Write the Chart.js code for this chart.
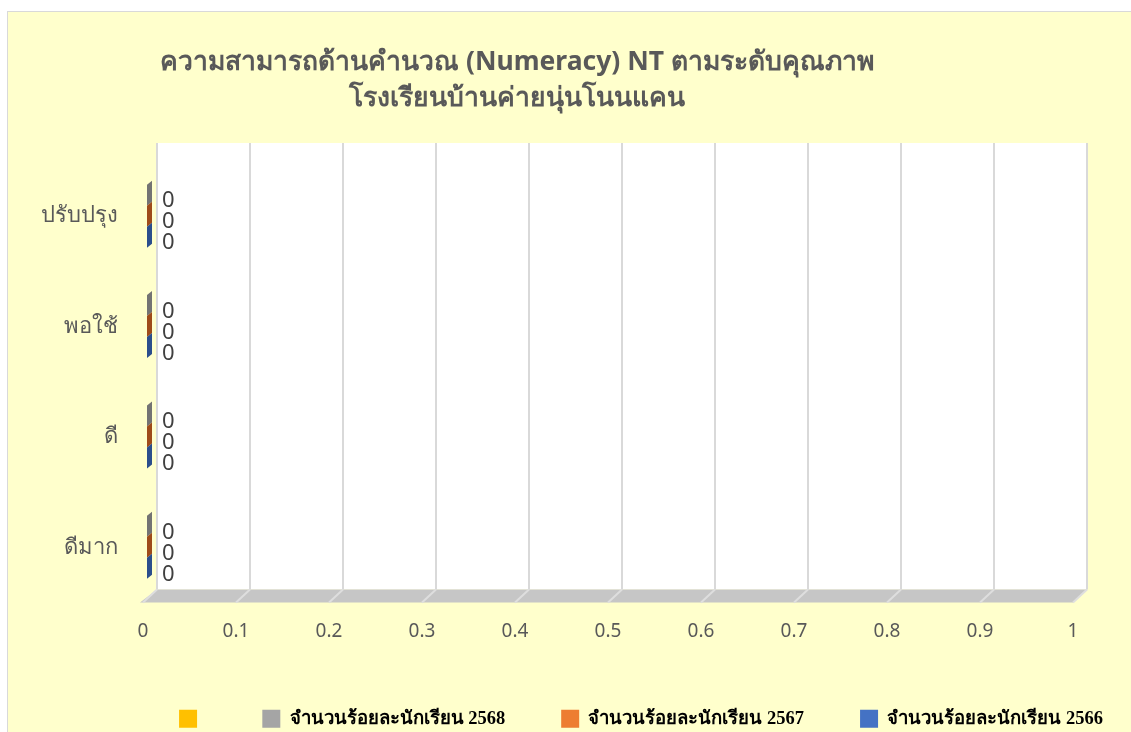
<!DOCTYPE html>
<html>
<head>
<meta charset="utf-8">
<script src="https://cdn.jsdelivr.net/npm/chart.js@4.4.1/dist/chart.umd.min.js"></script>
<style>
html, body { margin: 0; padding: 0; background: #fff; overflow: hidden; }
#box {
    position: absolute; left: 7px; top: 11px;
    width: 1130px; height: 730px;
    background: #FFFFCC;
    border-top: 1px solid #d9d9d9; border-left: 1px solid #d9d9d9;
    overflow: hidden;
}
canvas { display: block; }
</style>
</head>
<body>
<div id="box"><canvas id="ntChart" width="1266" height="726"></canvas></div>
<script>
// data (all zero)
const categories = ['ดีมาก', 'ดี', 'พอใช้', 'ปรับปรุง'];
const seriesNames = ['จำนวนร้อยละนักเรียน 2568', 'จำนวนร้อยละนักเรียน 2567', 'จำนวนร้อยละนักเรียน 2566'];
const values2568 = [0, 0, 0, 0];
const values2567 = [0, 0, 0, 0];
const values2566 = [0, 0, 0, 0];
const xTicks = [0, 0.1, 0.2, 0.3, 0.4, 0.5, 0.6, 0.7, 0.8, 0.9, 1];
const titleLines = ['ความสามารถด้านคำนวณ (Numeracy) NT ตามระดับคุณภาพ', 'โรงเรียนบ้านค่ายนุ่นโนนแคน'];

// colours
const frontColors = ['#A5A5A5', '#ED7D31', '#4472C4'];
const sideColors = ['#737373', '#9E4B1A', '#2B4E8C'];
const emptySeriesColor = '#FFC000';

const depthX = 14;
const depthY = 13;
const sansFont = '"Noto Sans", "Open Sans", sans-serif';

const chartTitle = {
    id: 'chartTitle',
    afterDraw(chart) {
        const ctx = chart.ctx;
        ctx.save();
        ctx.fillStyle = '#595959';
        ctx.font = 'bold 26.5px ' + sansFont;
        ctx.textAlign = 'center';
        ctx.textBaseline = 'middle';
        ctx.fillText(titleLines[0], 509, 50);
        ctx.fillText(titleLines[1], 509, 86);
        ctx.restore();
    }
};

// back wall, floor, and the thin 3d caps of the zero bars
const bar3d = {
    id: 'bar3d',
    beforeDatasetsDraw(chart) {
        const ctx = chart.ctx;
        const x = chart.scales.x;
        const area = chart.chartArea;
        const x0 = x.getPixelForValue(xTicks[0]);
        const x1 = x.getPixelForValue(xTicks[xTicks.length - 1]);
        const wallTop = area.top - 18;
        const wallBottom = area.bottom - depthY;

        ctx.save();
        ctx.fillStyle = '#ffffff';
        ctx.fillRect(x0 + depthX, wallTop, x1 - x0, wallBottom - wallTop);

        ctx.fillStyle = '#c6c6c6';
        ctx.beginPath();
        ctx.moveTo(x0 + depthX, wallBottom);
        ctx.lineTo(x1 + depthX, wallBottom);
        ctx.lineTo(x1, area.bottom);
        ctx.lineTo(x0 - 3, area.bottom);
        ctx.closePath();
        ctx.fill();

        ctx.lineWidth = 2;
        xTicks.forEach(v => {
            const px = x.getPixelForValue(v);
            ctx.strokeStyle = '#d9d9d9';
            ctx.beginPath();
            ctx.moveTo(px + depthX, wallTop);
            ctx.lineTo(px + depthX, wallBottom);
            ctx.stroke();
            ctx.strokeStyle = '#dedede';
            ctx.beginPath();
            ctx.moveTo(px + depthX, wallBottom);
            ctx.lineTo(px, area.bottom);
            ctx.stroke();
        });
        ctx.restore();
    },
    afterDatasetsDraw(chart) {
        const ctx = chart.ctx;
        ctx.save();
        chart.data.datasets.forEach((ds, i) => {
            const meta = chart.getDatasetMeta(i);
            meta.data.forEach((bar, j) => {
                const top = bar.y - bar.height / 2;
                const bottom = bar.y + bar.height / 2;
                ctx.fillStyle = sideColors[i];
                ctx.beginPath();
                ctx.moveTo(bar.x + 4, top);
                ctx.lineTo(bar.x + 9, top - 4);
                ctx.lineTo(bar.x + 9, bottom - 4);
                ctx.lineTo(bar.x + 4, bottom);
                ctx.closePath();
                ctx.fill();

                ctx.fillStyle = '#404040';
                ctx.font = '22px ' + sansFont;
                ctx.textAlign = 'left';
                ctx.textBaseline = 'middle';
                ctx.fillText(String(ds.data[j]), bar.x + 19, bar.y + 6);
            });
        });
        ctx.restore();
    }
};

const ntData = {
    labels: categories,
    datasets: [
        { label: seriesNames[0], data: values2568, backgroundColor: frontColors[0], borderWidth: 0 },
        { label: seriesNames[1], data: values2567, backgroundColor: frontColors[1], borderWidth: 0 },
        { label: seriesNames[2], data: values2566, backgroundColor: frontColors[2], borderWidth: 0 }
    ]
};

const ntConfig = {
    type: 'bar',
    data: ntData,
    options: {
        indexAxis: 'y',
        responsive: false,
        animation: false,
        categoryPercentage: 0.57,
        barPercentage: 1,
        layout: { padding: { top: 149, left: 0, right: 0, bottom: 0 } },
        scales: {
            x: {
                min: 0,
                max: 1131 / 930,
                afterBuildTicks(scale) {
                    scale.ticks = xTicks.map(v => ({ value: v }));
                },
                afterFit(scale) {
                    scale.height = 51;
                },
                grid: { display: false, drawTicks: false },
                border: { display: false },
                ticks: {
                    color: '#595959',
                    font: { family: sansFont, size: 19 },
                    padding: 18,
                    maxRotation: 0,
                    autoSkip: false,
                    callback: v => String(v)
                }
            },
            y: {
                reverse: true,
                afterFit(scale) {
                    scale.width = 135;
                },
                grid: { display: false, drawTicks: false },
                border: { display: false },
                ticks: {
                    color: '#595959',
                    font: { family: sansFont, size: 22 },
                    padding: 25
                }
            }
        },
        plugins: {
            title: { display: false },
            tooltip: { enabled: false },
            legend: {
                position: 'bottom',
                labels: {
                    boxWidth: 18,
                    boxHeight: 18,
                    padding: 56,
                    color: '#000000',
                    font: { family: '"Liberation Serif", "Times New Roman", serif', size: 18.5, weight: 'bold' },
                    generateLabels(chart) {
                        const items = Chart.defaults.plugins.legend.labels.generateLabels(chart);
                        items.unshift({ text: '', fillStyle: emptySeriesColor, strokeStyle: emptySeriesColor, lineWidth: 0, hidden: false });
                        return items;
                    }
                }
            }
        }
    },
    plugins: [bar3d, chartTitle]
};

const ntChart = new Chart(document.getElementById('ntChart'), ntConfig);
</script>
</body>
</html>
